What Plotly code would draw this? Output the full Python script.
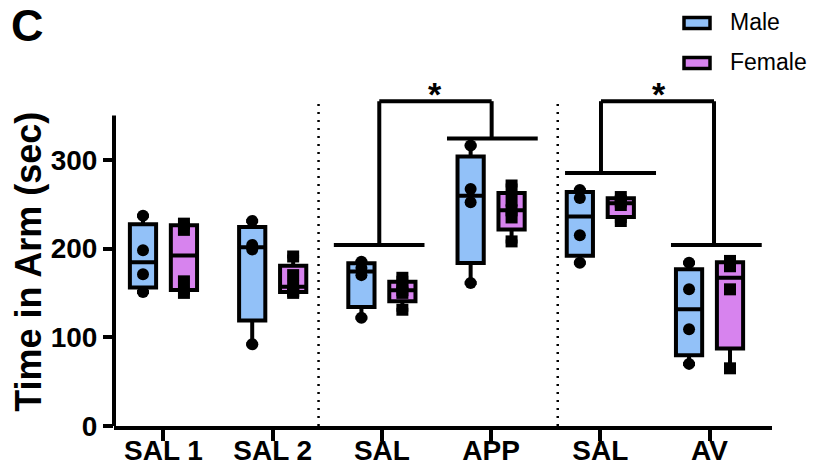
import numpy as np
import plotly.graph_objects as go

# ---------------- data ----------------
categories = ["SAL 1", "SAL 2", "SAL", "APP", "SAL", "AV"]

male_sal1 = [237, 198, 171, 151]
male_sal2 = [231, 204, 199, 92]
male_sal_app = [185, 178, 170, 122]
male_app = [316, 267, 252, 161]
male_sal_av = [266, 257, 215, 184]
male_av = [184, 154, 109, 70]

female_sal1 = [228, 221, 163, 150]
female_sal2 = [191, 170, 157, 152, 150]
female_sal_app = [167, 158, 153, 150, 131]
female_app = [271, 254, 243, 235, 208]
female_sal_av = [258, 253, 249, 231]
female_av = [186, 180, 154, 65]

y_ticks = [0, 100, 200, 300]

male_groups = [male_sal1, male_sal2, male_sal_app, male_app, male_sal_av, male_av]
female_groups = [female_sal1, female_sal2, female_sal_app, female_app, female_sal_av, female_av]

# ---------------- style ----------------
MALE_FILL = "#92c1f8"
FEMALE_FILL = "#d783ee"
FONT = "Arial, Liberation Sans, Helvetica, sans-serif"
OFFSET = 0.1875
BOX_W = 0.24
LW = 4


def stats(vals):
    a = np.array(vals, dtype=float)
    q1, med, q3 = np.percentile(a, [25, 50, 75], method="weibull")
    return q1, med, q3, a.min(), a.max()


fig = go.Figure()

for groups, fill, sign, symbol, name in [
    (male_groups, MALE_FILL, -1, "circle", "Male"),
    (female_groups, FEMALE_FILL, 1, "square", "Female"),
]:
    xs, q1s, meds, q3s, los, his = [], [], [], [], [], []
    px, py = [], []
    for i, g in enumerate(groups):
        q1, med, q3, lo, hi = stats(g)
        pos = i + sign * OFFSET
        xs.append(pos)
        q1s.append(q1)
        meds.append(med)
        q3s.append(q3)
        los.append(lo)
        his.append(hi)
        px.extend([pos] * len(g))
        py.extend(g)
    fig.add_trace(go.Box(
        x=xs, q1=q1s, median=meds, q3=q3s, lowerfence=los, upperfence=his,
        width=BOX_W, whiskerwidth=0.45, fillcolor=fill,
        line=dict(color="black", width=LW), boxpoints=False,
        name=name, showlegend=False,
    ))
    fig.add_trace(go.Scatter(
        x=px, y=py, mode="markers",
        marker=dict(symbol=symbol, size=12, color="black"),
        showlegend=False, name=name,
    ))

shapes = []
# y axis line (to 350)
shapes.append(dict(type="line", xref="paper", yref="y", x0=0, x1=0, y0=-2, y1=350,
                   line=dict(color="black", width=4)))
# dotted separators
for xd in [1.42, 3.61]:
    shapes.append(dict(type="line", xref="x", yref="y", x0=xd, x1=xd, y0=0, y1=368,
                       line=dict(color="black", width=2.5, dash="2px,6px")))

BL = dict(color="black", width=4)
# significance brackets: (y of group bar, x0, x1, x of vertical)
brackets = [
    (204, 1.56, 2.39, 1.976),
    (324, 2.596, 3.427, 3.005),
    (285, 3.677, 4.51, 4.006),
    (204, 4.647, 5.478, 5.041),
]
TOP = 366
for yb, x0, x1, xv in brackets:
    shapes.append(dict(type="line", xref="x", yref="y", x0=x0, x1=x1, y0=yb, y1=yb, line=BL))
    shapes.append(dict(type="line", xref="x", yref="y", x0=xv, x1=xv, y0=yb, y1=TOP, line=BL))
shapes.append(dict(type="line", xref="x", yref="y", x0=1.976, x1=3.005, y0=TOP, y1=TOP, line=BL))
shapes.append(dict(type="line", xref="x", yref="y", x0=4.006, x1=5.041, y0=TOP, y1=TOP, line=BL))

W, H = 814, 467
L, R, T, B = 114, 42, 71, 41
PW, PH = W - L - R, H - T - B


def px2paper_x(p):
    return (p - L) / PW


def px2paper_y(p):
    return (H - B - p) / PH


for cy, fill in [(23, MALE_FILL), (63, FEMALE_FILL)]:
    shapes.append(dict(type="rect", xref="paper", yref="paper",
                       x0=px2paper_x(684), x1=px2paper_x(710),
                       y0=px2paper_y(cy + 5.5), y1=px2paper_y(cy - 5.5),
                       fillcolor=fill, line=dict(color="black", width=3.5)))

annotations = [
    dict(text="Male", xref="paper", yref="paper", x=px2paper_x(728), y=px2paper_y(22),
         xanchor="left", yanchor="middle", showarrow=False,
         font=dict(family=FONT, size=23, color="black")),
    dict(text="Female", xref="paper", yref="paper", x=px2paper_x(728), y=px2paper_y(62),
         xanchor="left", yanchor="middle", showarrow=False,
         font=dict(family=FONT, size=23, color="black")),
    dict(text="<b>C</b>", xref="paper", yref="paper", x=px2paper_x(9), y=px2paper_y(26),
         xanchor="left", yanchor="middle", showarrow=False,
         font=dict(family=FONT, size=45, color="black")),
    dict(text="<b>*</b>", xref="x", yref="paper", x=2.49, y=px2paper_y(94),
         xanchor="center", yanchor="middle", showarrow=False,
         font=dict(family=FONT, size=34, color="black")),
    dict(text="<b>*</b>", xref="x", yref="paper", x=4.54, y=px2paper_y(94),
         xanchor="center", yanchor="middle", showarrow=False,
         font=dict(family=FONT, size=34, color="black")),
    dict(text="<b>Time in Arm (sec)</b>", xref="paper", yref="y", x=px2paper_x(29), y=185,
         xanchor="center", yanchor="middle", textangle=-90, showarrow=False,
         font=dict(family=FONT, size=36, color="black")),
]

fig.update_layout(
    width=W, height=H,
    margin=dict(l=L, r=R, t=T, b=B, autoexpand=False),
    plot_bgcolor="white", paper_bgcolor="white",
    shapes=shapes, annotations=annotations,
    showlegend=False,
    font=dict(family=FONT, color="black"),
)
fig.update_xaxes(
    range=[-0.453, 5.572], tickmode="array", tickvals=list(range(len(categories))),
    ticktext=[f"<b>{c}</b>" for c in categories],
    tickfont=dict(family=FONT, size=28, color="black"),
    showline=True, linecolor="black", linewidth=4,
    ticks="outside", ticklen=11, tickwidth=3.5, tickcolor="black",
    ticklabelstandoff=-15,
    showgrid=False, zeroline=False, automargin=False,
)
fig.update_yaxes(
    range=[0, 400], tickmode="array", tickvals=y_ticks,
    ticktext=[f"<b>{v}</b>" for v in y_ticks],
    tickfont=dict(family=FONT, size=28, color="black"),
    showline=False, ticks="outside", ticklen=10, tickwidth=3.5, tickcolor="black",
    showgrid=False, zeroline=False, automargin=False,
)

fig.write_html(
    "out.html",
    config={"displayModeBar": False},
    post_script="document.body.style.margin='0px';document.body.style.overflow='hidden';",
)
